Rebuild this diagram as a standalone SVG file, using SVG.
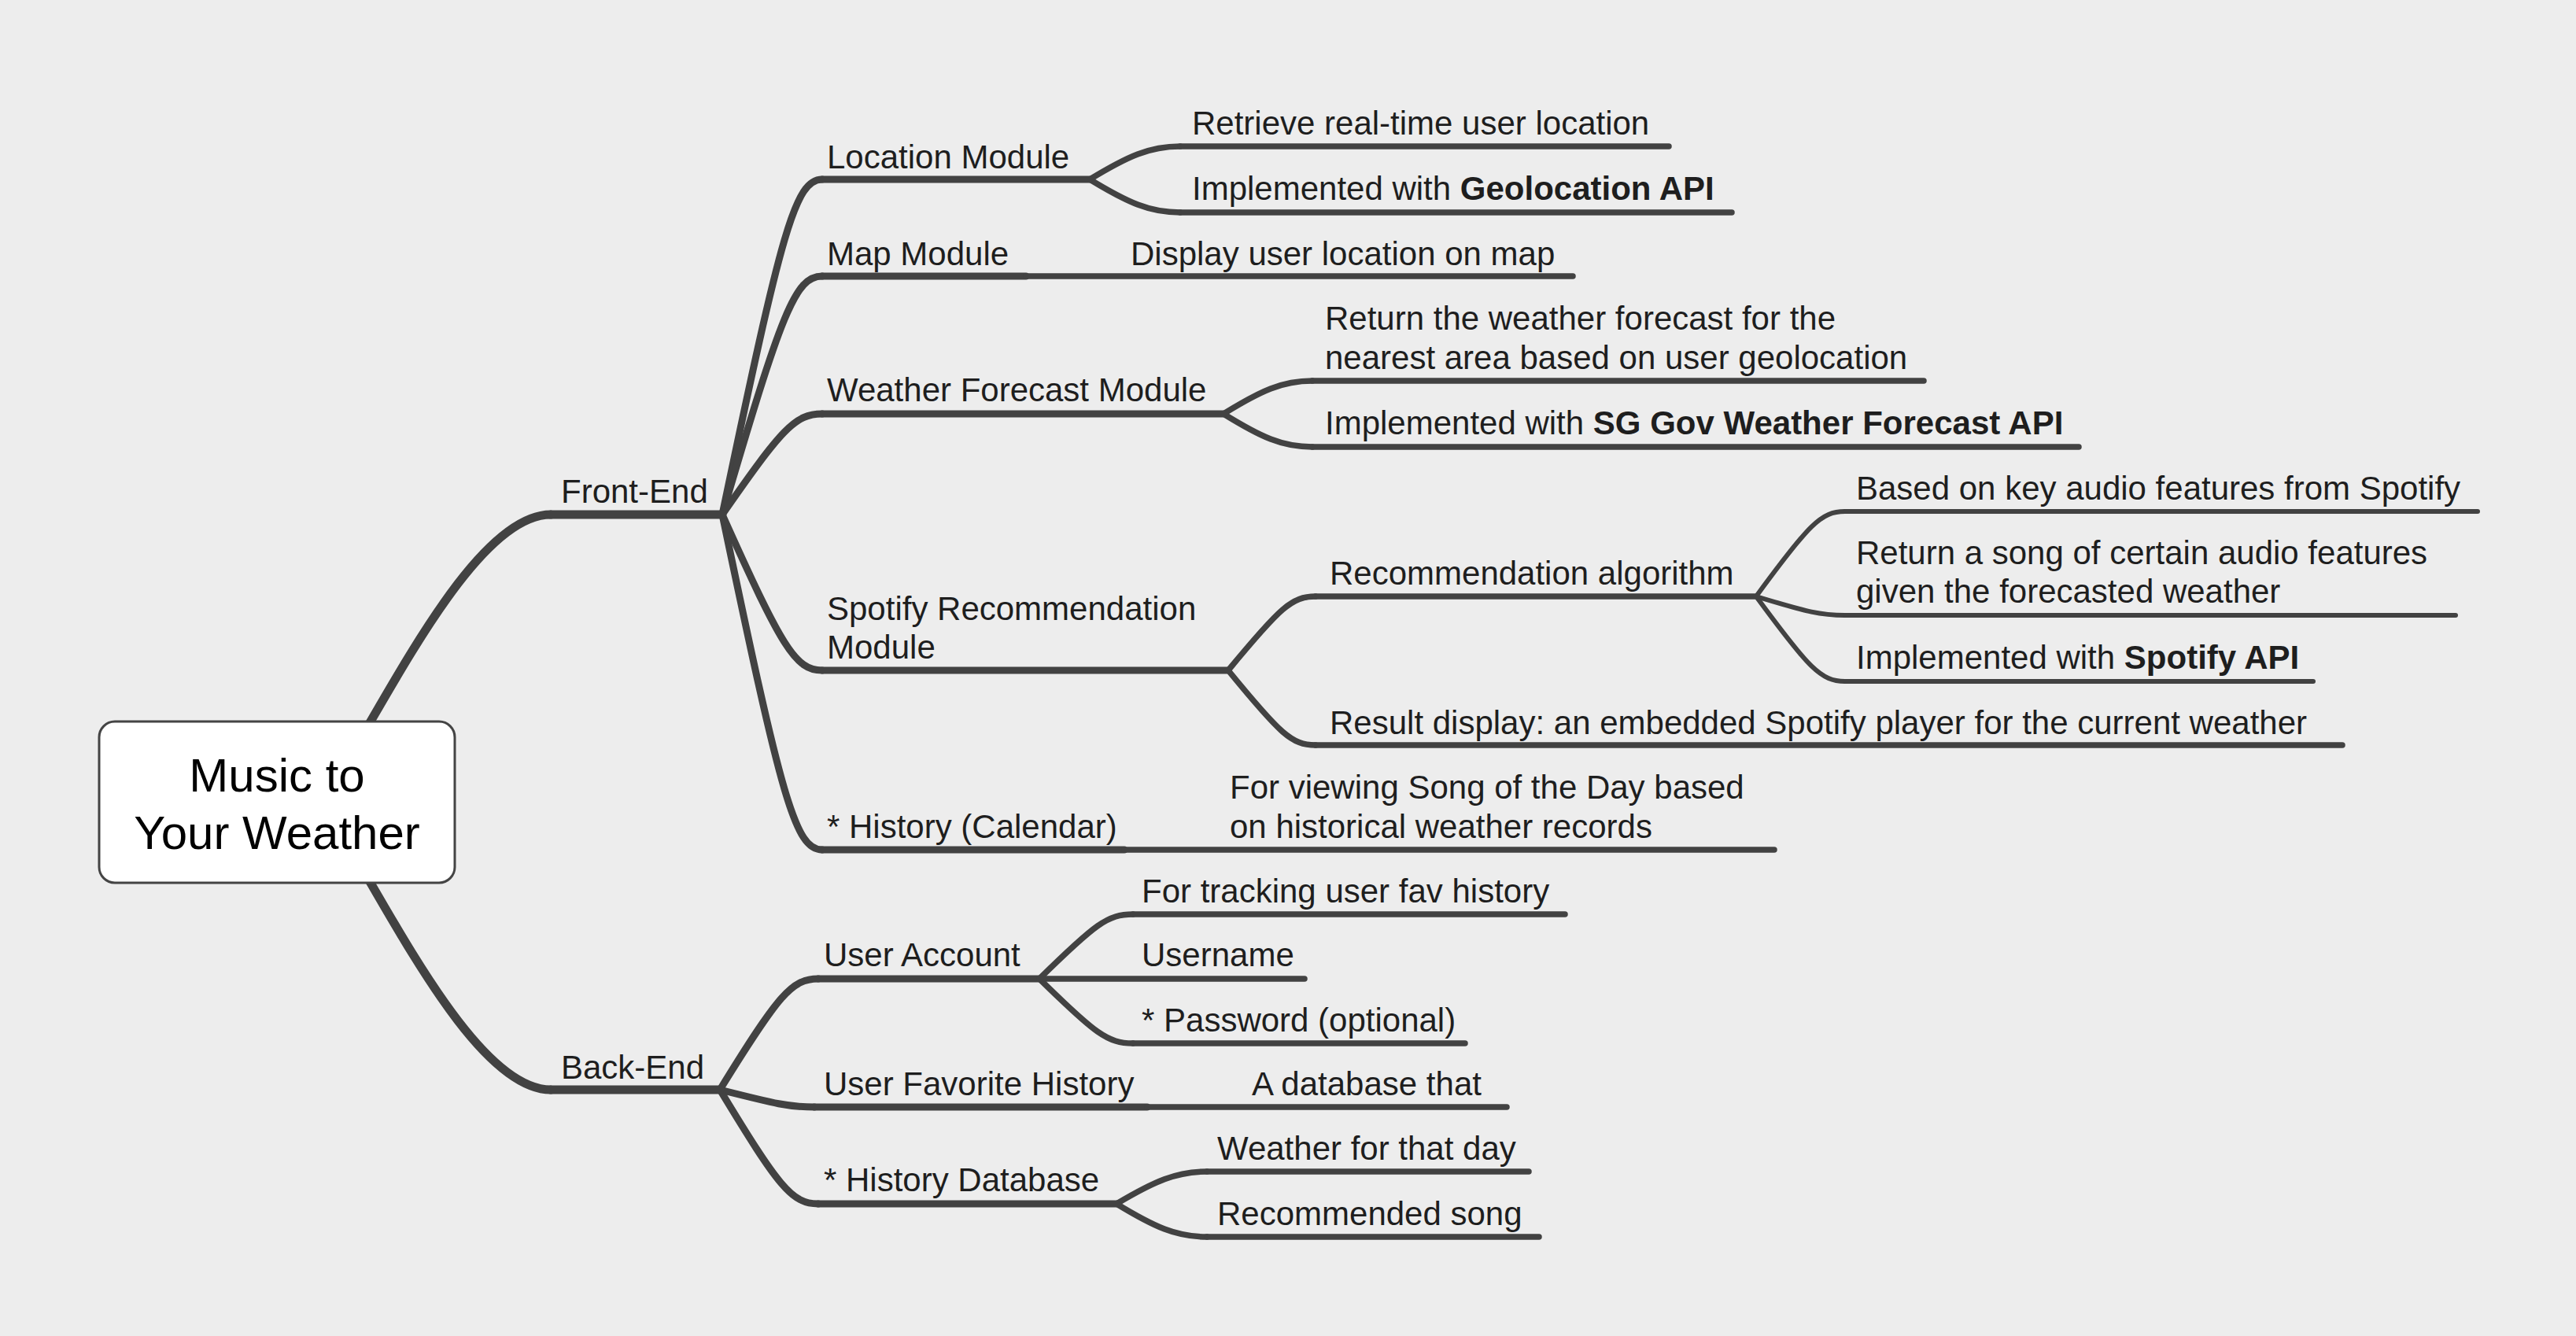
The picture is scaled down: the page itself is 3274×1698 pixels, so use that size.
<svg xmlns="http://www.w3.org/2000/svg" width="3274" height="1698" viewBox="0 0 3274 1698">
<style>
.c{fill:none;stroke:#424242;stroke-linecap:round;stroke-linejoin:round}
.l1{stroke-width:11}
.l2{stroke-width:9}
.l3{stroke-width:7.5}
.l4{stroke-width:6}
text{font-family:"Liberation Sans",Arial,Helvetica,sans-serif;font-size:42px;fill:#1e1e1e}
.b{font-weight:bold}
.root{font-size:60px;fill:#000;text-anchor:middle}
</style>
<rect width="3274" height="1698" fill="#ededed"/>
<g id="connectors">
<path class="c l1" d="M437,975 C509,855 610,654 700,654"/>
<path class="c l1" d="M437,1064 C509,1184 610,1385 700,1385"/>
<path class="c l2" d="M918,654 C993.6,291.9 1010.7,228 1045,228"/>
<path class="c l2" d="M918,654 C993.6,396.4 1010.7,351 1045,351"/>
<path class="c l2" d="M918,654 C993.6,545.2 1010.7,526 1045,526"/>
<path class="c l2" d="M918,654 C993.6,822.3 1010.7,852 1045,852"/>
<path class="c l2" d="M918,654 C993.6,1016.1 1010.7,1080 1045,1080"/>
<path class="c l2" d="M915,1385 C989.4,1264.3 1006.3,1244 1040,1244"/>
<path class="c l2" d="M915,1385 C986.4,1403 1002.6,1407 1035,1407"/>
<path class="c l2" d="M915,1385 C989.4,1507.8 1006.3,1530 1040,1530"/>
<path class="c l3" d="M1385,228 C1433.3,198.6 1460.9,186 1500,186"/>
<path class="c l3" d="M1385,228 C1433.3,257.4 1460.9,270 1500,270"/>
<path class="c l3" d="M1555,526 C1602.5,496.6 1629.6,484 1668,484"/>
<path class="c l3" d="M1555,526 C1602.5,555.4 1629.6,568 1668,568"/>
<path class="c l3" d="M1561,852 C1627,772 1642,758 1672,758"/>
<path class="c l3" d="M1561,852 C1627,932.8 1642,947 1672,947"/>
<path class="c l3" d="M1321,1244 C1391.8,1174.3 1407.9,1162 1440,1162"/>
<path class="c l3" d="M1321,1244 C1391.8,1313.7 1407.9,1326 1440,1326"/>
<path class="c l3" d="M1419,1530 C1467.3,1501.3 1494.9,1489 1534,1489"/>
<path class="c l3" d="M1419,1530 C1467.3,1559.4 1494.9,1572 1534,1572"/>
<path class="c l4" d="M2232,758 C2299.2,666.2 2314.5,650 2345,650"/>
<path class="c l4" d="M2232,758 C2299.2,778.4 2314.5,782 2345,782"/>
<path class="c l4" d="M2232,758 C2299.2,849.8 2314.5,866 2345,866"/>
</g>
<g id="root">
<rect x="126" y="917" width="452" height="205" rx="20" fill="#fff" stroke="#444" stroke-width="3"/>
<text class="root" x="352" y="1006">Music to</text>
<text class="root" x="352" y="1079">Your Weather</text>
</g>
<g id="front-end"><path class="c l1" d="M700,654 H918"/><text x="713" y="639">Front-End</text></g>
<g id="back-end"><path class="c l1" d="M700,1385 H915"/><text x="713" y="1371">Back-End</text></g>
<g id="location-module"><path class="c l2" d="M1045,228 H1385"/><text x="1051" y="214">Location Module</text></g>
<g id="map-module"><path class="c l2" d="M1045,351 H1304"/><text x="1051" y="337">Map Module</text></g>
<g id="weather-module"><path class="c l2" d="M1045,526 H1555"/><text x="1051" y="510">Weather Forecast Module</text></g>
<g id="spotify-module"><path class="c l2" d="M1045,852 H1561"/><text x="1051" y="788">Spotify Recommendation</text><text x="1051" y="837">Module</text></g>
<g id="history-calendar"><path class="c l2" d="M1045,1080 H1429"/><text x="1051" y="1065">* History (Calendar)</text></g>
<g id="user-account"><path class="c l2" d="M1040,1244 H1321"/><text x="1047" y="1228">User Account</text></g>
<g id="user-favorite-history"><path class="c l2" d="M1035,1407 H1458"/><text x="1047" y="1392">User Favorite History</text></g>
<g id="history-database"><path class="c l2" d="M1040,1530 H1419"/><text x="1047" y="1514">* History Database</text></g>
<g id="retrieve-location"><path class="c l3" d="M1500,186 H2121"/><text x="1515" y="171">Retrieve real-time user location</text></g>
<g id="geolocation-api"><path class="c l3" d="M1500,270 H2201"/><text x="1515" y="254">Implemented with <tspan class="b">Geolocation API</tspan></text></g>
<g id="display-location"><path class="c l3" d="M1304,351 H1999"/><text x="1437" y="337">Display user location on map</text></g>
<g id="return-forecast"><path class="c l3" d="M1668,484 H2445"/><text x="1684" y="419">Return the weather forecast for the</text><text x="1684" y="469">nearest area based on user geolocation</text></g>
<g id="sg-gov-api"><path class="c l3" d="M1668,568 H2642"/><text x="1684" y="552">Implemented with <tspan class="b">SG Gov Weather Forecast API</tspan></text></g>
<g id="recommendation-algorithm"><path class="c l3" d="M1672,758 H2232"/><text x="1690" y="743">Recommendation algorithm</text></g>
<g id="result-display"><path class="c l3" d="M1672,947 H2977"/><text x="1690" y="933">Result display: an embedded Spotify player for the current weather</text></g>
<g id="based-on-features"><path class="c l4" d="M2345,650 H3149"/><text x="2359" y="635">Based on key audio features from Spotify</text></g>
<g id="return-song"><path class="c l4" d="M2345,782 H3121"/><text x="2359" y="717">Return a song of certain audio features</text><text x="2359" y="766">given the forecasted weather</text></g>
<g id="spotify-api"><path class="c l4" d="M2345,866 H2940"/><text x="2359" y="850">Implemented with <tspan class="b">Spotify API</tspan></text></g>
<g id="song-of-the-day"><path class="c l3" d="M1429,1080 H2255"/><text x="1563" y="1015">For viewing Song of the Day based</text><text x="1563" y="1065">on historical weather records</text></g>
<g id="tracking-history"><path class="c l3" d="M1440,1162 H1989"/><text x="1451" y="1147">For tracking user fav history</text></g>
<g id="username"><path class="c l3" d="M1321,1244 H1658"/><text x="1451" y="1228">Username</text></g>
<g id="password"><path class="c l3" d="M1440,1326 H1862"/><text x="1451" y="1311">* Password (optional)</text></g>
<g id="database-that"><path class="c l3" d="M1458,1407 H1915"/><text x="1591" y="1392">A database that</text></g>
<g id="weather-for-day"><path class="c l3" d="M1534,1489 H1943"/><text x="1547" y="1474">Weather for that day</text></g>
<g id="recommended-song"><path class="c l3" d="M1534,1572 H1956"/><text x="1547" y="1557">Recommended song</text></g>
</svg>
